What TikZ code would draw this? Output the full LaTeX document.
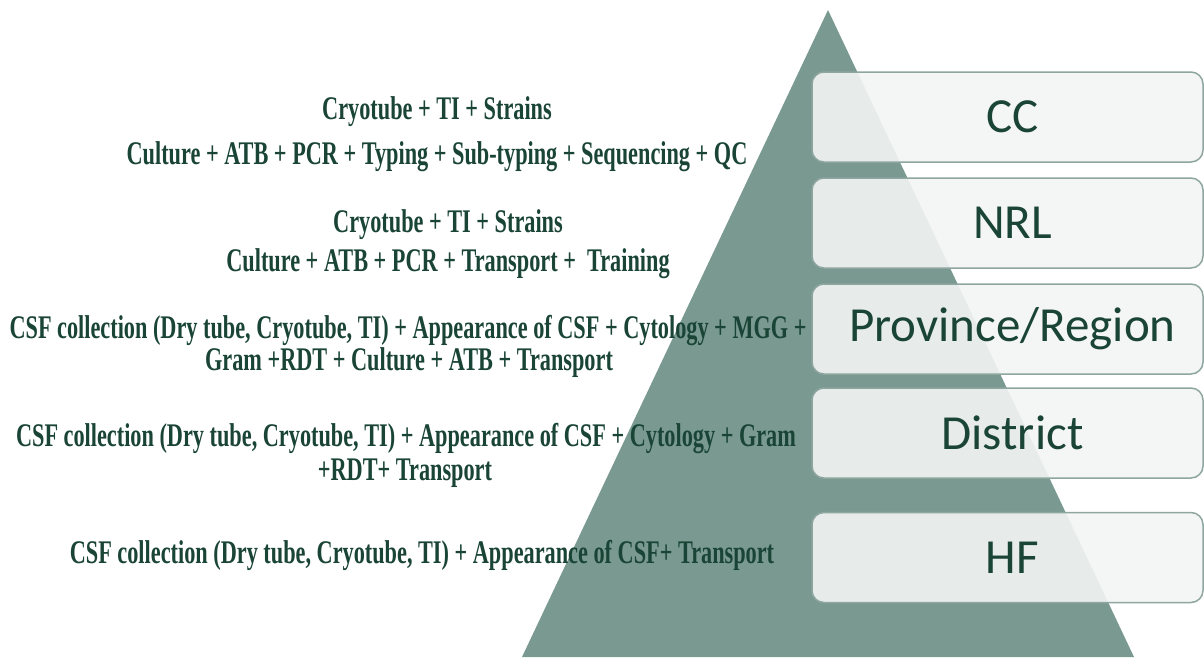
\documentclass[tikz,border=0pt]{standalone}
\usepackage{fontspec}
\newfontfamily\condfont[FakeStretch=0.675]{Liberation Serif}
\newfontfamily\labfont{Carlito}
\definecolor{tricol}{HTML}{7A9A91}
\definecolor{txtcol}{HTML}{1A4536}
\definecolor{boxfill}{HTML}{F3F5F5}
\definecolor{boxline}{HTML}{8EA69F}
\tikzset{
  levelbox/.style={draw=boxline, line width=1.5pt, fill=boxfill, fill opacity=0.9, text opacity=1,
    rounded corners=12pt, minimum width=391pt, minimum height=90pt, inner sep=0pt,
    text=txtcol, font=\labfont\fontsize{49}{52}\selectfont},
  desc/.style={anchor=base, inner sep=0pt, text=txtcol, font=\condfont\bfseries\fontsize{33}{36}\selectfont}
}
\begin{document}
\begin{tikzpicture}[x=1pt,y=-1pt]
\useasboundingbox (0,0) rectangle (1204,657);
\fill[white] (0,0) rectangle (1204,657);
\fill[tricol] (522,657) -- (828,10) -- (1134,657) -- cycle;
\node[levelbox] (cc) at (1007.5,117) {\hspace*{10pt}CC};
\node[levelbox] (nrl) at (1007.5,223) {\hspace*{10pt}NRL};
\node[levelbox] (prov) at (1007.5,329) {\hspace*{10pt}Province/Region};
\node[levelbox] (dist) at (1007.5,433) {\hspace*{10pt}District};
\node[levelbox] (hf) at (1007.5,557.5) {\hspace*{10pt}HF};
\node[desc] (cc1) at (437,119) {Cryotube + TI + Strains};
\node[desc] (cc2) at (437,164) {Culture + ATB + PCR + Typing + Sub-typing + Sequencing + QC};
\node[desc] (nrl1) at (448,232) {Cryotube + TI + Strains};
\node[desc] (nrl2) at (448,271) {Culture + ATB + PCR + Transport +\ \ Training};
\node[desc] (pr1) at (408,338) {CSF collection (Dry tube, Cryotube, TI) + Appearance of CSF + Cytology + MGG +};
\node[desc] (pr2) at (409,370) {Gram +RDT + Culture + ATB + Transport};
\node[desc] (di1) at (406,446) {CSF collection (Dry tube, Cryotube, TI) + Appearance of CSF + Cytology + Gram};
\node[desc] (di2) at (405,480) {+RDT+ Transport};
\node[desc] (hf1) at (422,563) {CSF collection (Dry tube, Cryotube, TI) + Appearance of CSF+ Transport};
\end{tikzpicture}
\end{document}
